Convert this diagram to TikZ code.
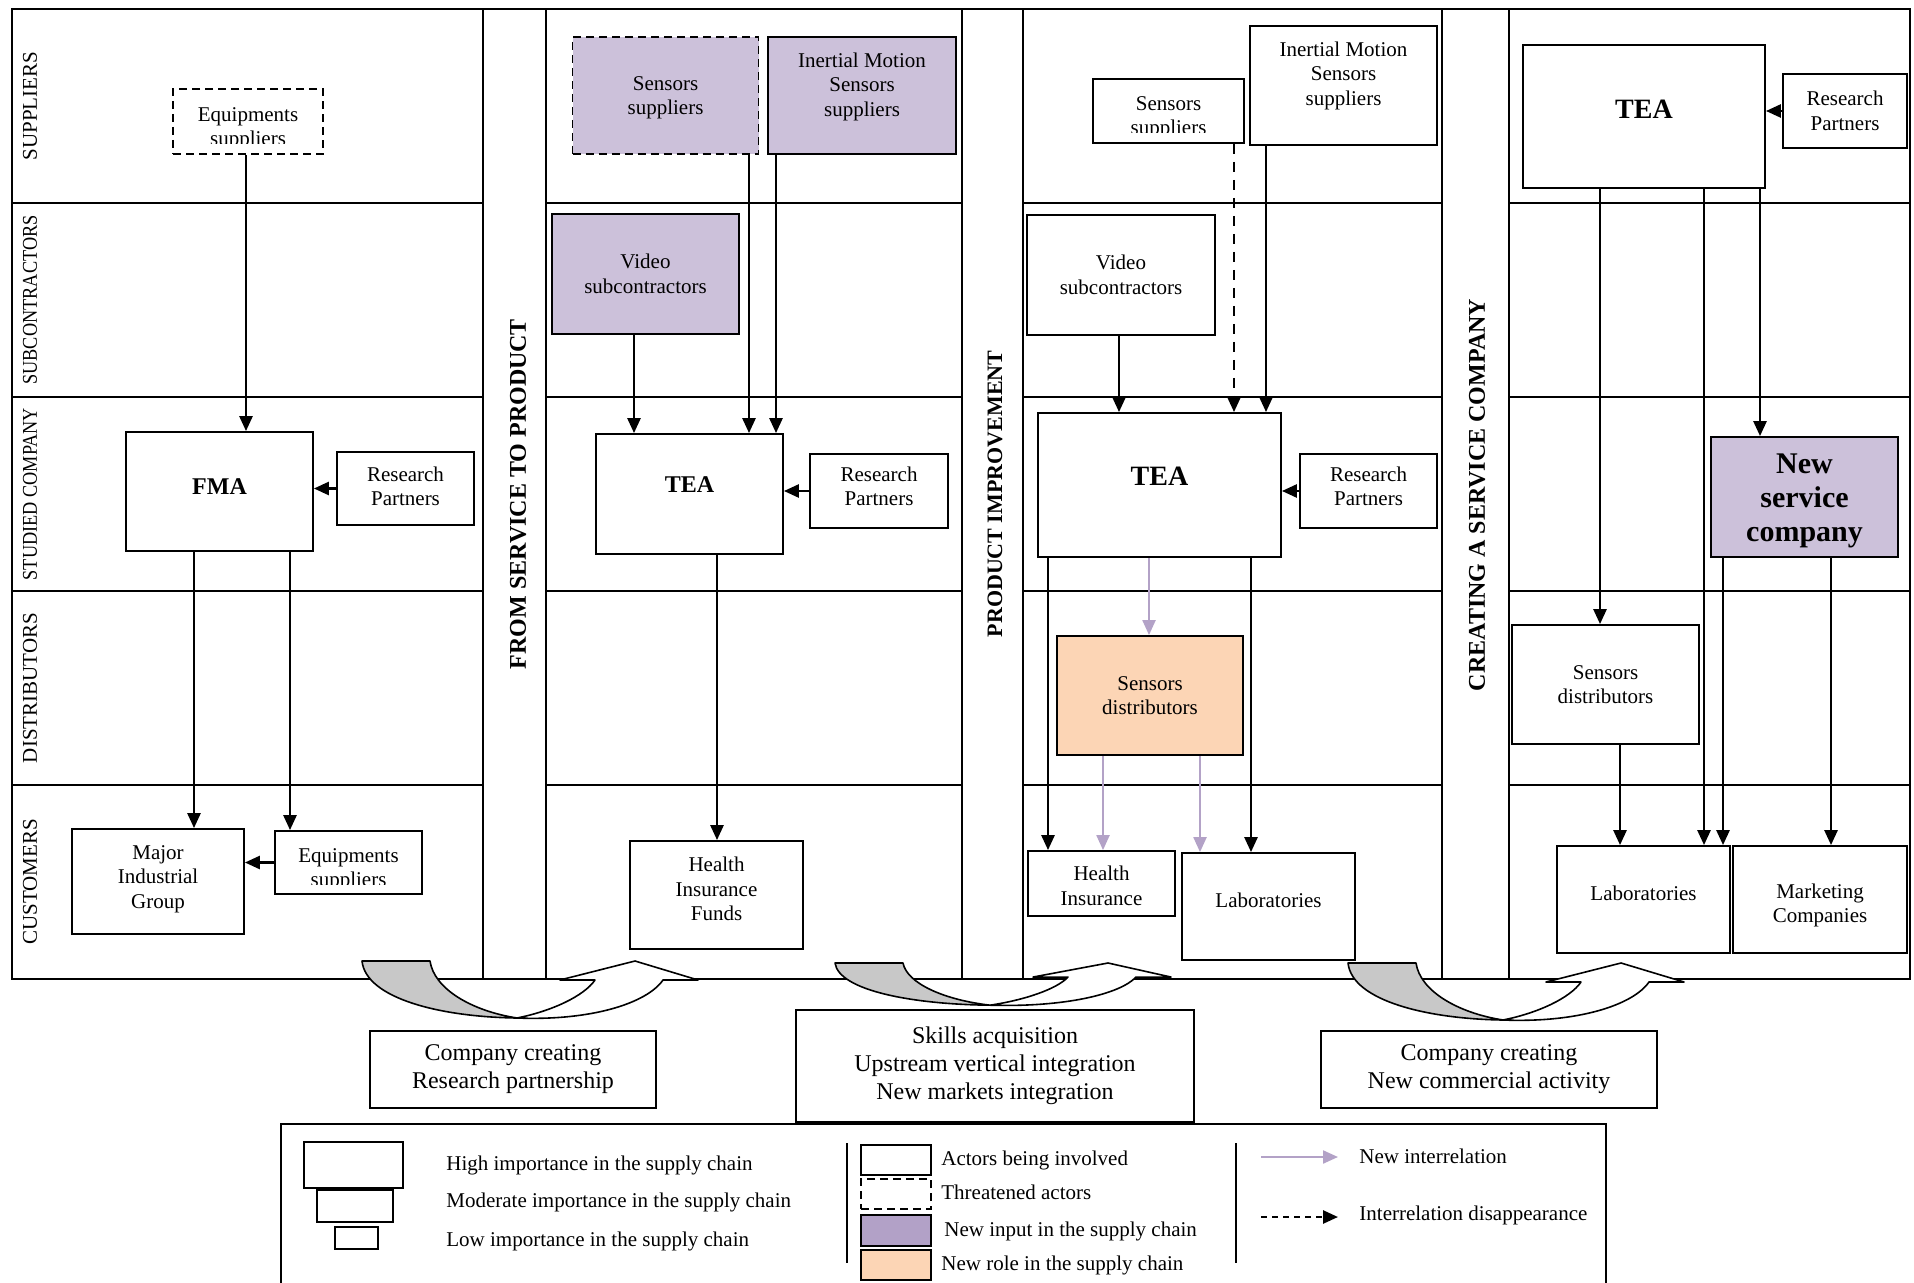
\documentclass[tikz,border=0pt]{standalone}
\usepackage{fontspec}
\setmainfont{Liberation Serif}
\newfontfamily\narrowfont[FakeStretch=0.87]{Liberation Serif}
\usetikzlibrary{arrows.meta,positioning,calc}

\definecolor{inputpurple}{HTML}{CCC1DA}
\definecolor{keypurple}{HTML}{B2A1C7}
\definecolor{rolepeach}{HTML}{FCD5B5}
\definecolor{linkpurple}{HTML}{B3A2C7}
\definecolor{ribbongray}{HTML}{C8C8C8}

\tikzset{
  laneline/.style={line width=0.9pt},
  actor/.style={draw, line width=0.9pt, fill=white, align=center, inner sep=2pt,
    font=\fontsize{10.5}{12.2}\selectfont},
  threatened/.style={actor, dash pattern=on 4pt off 2.5pt},
  boxsize/.style 2 args={minimum width=#1*0.5pt, minimum height=#2*0.5pt},
  firm/.style={font=\bfseries\fontsize{12}{14}\selectfont},
  bigfirm/.style={font=\bfseries\fontsize{14}{16}\selectfont},
  shiftedtext/.style 2 args={path picture={
    \node[align=center, font=\fontsize{10.5}{12.2}\selectfont] at ([yshift=#1]path picture bounding box.center) {#2};}},
  clippedtext/.style n args={3}{path picture={
    \clip ([yshift=5pt]path picture bounding box.south west) rectangle (path picture bounding box.north east);
    \node[align=center, font=#1] at ([yshift=#2]path picture bounding box.center) {#3};}},
  rowlabel/.style={rotate=90, inner sep=0pt, font=\fontsize{10.5}{12}\selectfont},
  phase/.style={rotate=90, inner sep=0pt, font=\bfseries\fontsize{12}{14}\selectfont},
  arr/.style={-{Triangle[length=7.5pt,width=6.5pt]}, line width=1.3pt},
  newlink/.style={arr, draw=linkpurple, line width=1.1pt},
  lostlink/.style={arr, dash pattern=on 5pt off 4pt},
  ribbon/.style={draw, line width=0.8pt, line join=round},
  outcome/.style={draw, line width=1pt, align=center, font=\fontsize{12}{14}\selectfont},
  keytext/.style={anchor=west, inner sep=0pt, font=\fontsize{10.5}{12}\selectfont}
}

\begin{document}
\begin{tikzpicture}[x=0.5pt, y=-0.5pt]
\useasboundingbox (0,0) rectangle (1914,1283);
% lanes and phase bands
\draw[laneline] (12,9) rectangle (1910,979);
\foreach \xa/\xb in {483/546, 962/1023, 1442/1509}
  \draw[laneline] (\xa,9) -- (\xa,979) (\xb,9) -- (\xb,979);
\foreach \xa/\xb in {12/483, 546/962, 1023/1442, 1509/1910}
  \foreach \y in {203,397,591,785}
    \draw[laneline] (\xa,\y) -- (\xb,\y);
\foreach \y/\l in {106/SUPPLIERS, 300/{\narrowfont SUBCONTRACTORS}, 494/{\narrowfont STUDIED COMPANY}, 688/DISTRIBUTORS, 882/CUSTOMERS}
  \node[rowlabel] (lane\y) at (30,\y) {\l};
\node[phase] (phase1) at (518,494) {FROM SERVICE TO PRODUCT};
\node[phase, font=\bfseries\fontsize{11}{13}\selectfont] (phase2) at (995,494) {PRODUCT IMPROVEMENT};
\node[phase] (phase3) at (1477,495) {CREATING A SERVICE COMPANY};

% stage 1
\node[threatened, boxsize={150}{65}, clippedtext={\fontsize{10.5}{12.2}\selectfont}{-3.5pt}{Equipments\\suppliers}] (p1eq) at (248,121.5) {};
\node[actor, firm, text depth=4.8pt, boxsize={187}{119}] (p1fma) at (219.5,491.5) {FMA};
\node[actor, boxsize={137}{73}, shiftedtext={1.2pt}{Research\\Partners}] (p1rp) at (405.5,488.5) {};
\node[actor, boxsize={172}{105}, shiftedtext={1.2pt}{Major\\Industrial\\Group}] (p1mig) at (158,881.5) {};
\node[actor, boxsize={147}{63}, clippedtext={\fontsize{10.5}{12.2}\selectfont}{-3.5pt}{Equipments\\suppliers}] (p1eqc) at (348.5,862.5) {};

% stage 2
\node[threatened, fill=inputpurple, boxsize={186}{117}, shiftedtext={-1.2pt}{Sensors\\suppliers}] (p2ss) at (665.5,95.5) {};
\node[actor, fill=inputpurple, boxsize={188}{117}, shiftedtext={4.3pt}{Inertial Motion\\Sensors\\suppliers}] (p2ims) at (862,95.5) {};
\node[actor, fill=inputpurple, boxsize={187}{120}] (p2vid) at (645.5,274) {Video\\subcontractors};
\node[actor, firm, text depth=9.8pt, boxsize={187}{120}] (p2tea) at (689.5,494) {TEA};
\node[actor, boxsize={138}{74}, shiftedtext={2.4pt}{Research\\Partners}] (p2rp) at (879,491) {};
\node[actor, boxsize={173}{108}, shiftedtext={3pt}{Health\\Insurance\\Funds}] (p2hif) at (716.5,895) {};

% stage 3
\node[actor, boxsize={151}{64}, clippedtext={\fontsize{10.5}{12.2}\selectfont}{-3.5pt}{Sensors\\suppliers}] (p3ss) at (1168.5,111) {};
\node[actor, boxsize={187}{119}, shiftedtext={4.9pt}{Inertial Motion\\Sensors\\suppliers}] (p3ims) at (1343.5,85.5) {};
\node[actor, boxsize={188}{120}] (p3vid) at (1121,275) {Video\\subcontractors};
\node[actor, bigfirm, text depth=8.6pt, boxsize={243}{144}] (p3tea) at (1159.5,485) {TEA};
\node[actor, boxsize={137}{74}, shiftedtext={2.4pt}{Research\\Partners}] (p3rp) at (1368.5,491) {};
\node[actor, fill=rolepeach, boxsize={186}{119}] (p3sd) at (1150,695.5) {Sensors\\distributors};
\node[actor, boxsize={147}{65}, shiftedtext={-1.2pt}{Health\\Insurance}] (p3hi) at (1101.5,883.5) {};
\node[actor, text depth=6pt, boxsize={173}{107}] (p3lab) at (1268.5,906.5) {Laboratories};

% stage 4
\node[actor, bigfirm, text depth=7.4pt, boxsize={242}{143}] (p4tea) at (1644,116.5) {TEA};
\node[actor, boxsize={124}{74}] (p4rp) at (1845,111) {Research\\Partners};
\node[actor, fill=inputpurple, boxsize={187}{120}, clippedtext={\bfseries\fontsize{15}{17}\selectfont}{-2pt}{New\\service\\company}] (p4nsc) at (1804.5,497) {};
\node[actor, boxsize={187}{119}] (p4sd) at (1605.5,684.5) {Sensors\\distributors};
\node[actor, text depth=6pt, boxsize={173}{107}] (p4lab) at (1643.5,899.5) {Laboratories};
\node[actor, boxsize={174}{107}, shiftedtext={-3pt}{Marketing\\Companies}] (p4mkt) at (1820,899.5) {};

% interrelations
\foreach \x/\a/\b in {246/p1eq/p1fma, 194/p1fma/p1mig, 290/p1fma/p1eqc,
    634/p2vid/p2tea, 749/p2ss/p2tea, 776/p2ims/p2tea, 717/p2tea/p2hif,
    1119/p3vid/p3tea, 1266/p3ims/p3tea, 1048/p3tea/p3hi, 1251/p3tea/p3lab,
    1600/p4tea/p4sd, 1704/p4tea/p4lab, 1760/p4tea/p4nsc, 1723/p4nsc/p4lab, 1831/p4nsc/p4mkt, 1620/p4sd/p4lab}
  \draw[arr] (\x,0 |- \a.south) -- (\x,0 |- \b.north);
\foreach \x/\a/\b in {1149/p3tea/p3sd, 1103/p3sd/p3hi, 1200/p3sd/p3lab}
  \draw[newlink] (\x,0 |- \a.south) -- (\x,0 |- \b.north);
\draw[lostlink] (1234,0 |- p3ss.south) -- (1234,0 |- p3tea.north);
\foreach \a/\b in {p1rp/p1fma, p2rp/p2tea, p3rp/p3tea, p4rp/p4tea, p1eqc/p1mig}
  \draw[arr] (\a.west) -- (\a.west -| \b.east);

% transition ribbons
\foreach \rx/\ry/\rs in {362/961/1, 835/963/0.74, 1348/963/1} {
  \begin{scope}[shift={(\rx,\ry)}, yscale=\rs]
    \filldraw[ribbon, fill=ribbongray] (0,0) -- (68,0) .. controls (72,28) and (110,50) .. (155,57)
      .. controls (80,56) and (4,38) .. (0,0) -- cycle;
    \filldraw[ribbon, fill=white] (155,57) .. controls (190,50) and (222,35) .. (233,19) -- (198,19)
      -- (273,0) -- (336,19) -- (301,19) .. controls (285,42) and (230,60) .. (155,57) -- cycle;
  \end{scope}
}
\node[outcome, boxsize={286}{77}] (out1) at (513,1069.5) {Company creating\\Research partnership};
\node[outcome, boxsize={398}{112}] (out2) at (995,1066) {Skills acquisition\\Upstream vertical integration\\New markets integration};
\node[outcome, boxsize={336}{77}] (out3) at (1489,1069.5) {Company creating\\New commercial activity};

% legend
\draw[line width=1pt] (281,1300) -- (281,1124) -- (1606,1124) -- (1606,1300);
\draw[line width=0.9pt] (847,1143) -- (847,1263) (1236,1143) -- (1236,1263);
\node[actor, boxsize={99}{46}] (keyhigh) at (353.5,1165) {};
\node[actor, boxsize={76}{32}] (keymid) at (355,1206) {};
\node[actor, boxsize={43}{22}] (keylow) at (356.5,1238) {};
\node[keytext] (keyhightxt) at (446,1165) {High importance in the supply chain};
\node[keytext] (keymidtxt) at (446,1202) {Moderate importance in the supply chain};
\node[keytext] (keylowtxt) at (446,1241) {Low importance in the supply chain};
\node[actor, boxsize={70}{30}] (keyactor) at (896,1160) {};
\node[threatened, boxsize={70}{30}] (keythreat) at (896,1194) {};
\node[actor, fill=keypurple, boxsize={70}{31}] (keyinput) at (896,1230.5) {};
\node[actor, fill=rolepeach, boxsize={70}{30}] (keyrole) at (896,1265) {};
\node[keytext] (keyactortxt) at (941,1160) {Actors being involved};
\node[keytext] (keythreattxt) at (941,1192) {Threatened actors};
\node[keytext] (keyinputtxt) at (944,1231) {New input in the supply chain};
\node[keytext] (keyroletxt) at (941,1265) {New role in the supply chain};
\coordinate (keynewA) at (1261,1157);
\coordinate (keynewB) at (1338,1157);
\coordinate (keylostA) at (1261,1217);
\coordinate (keylostB) at (1338,1217);
\draw[newlink] (keynewA) -- (keynewB);
\draw[lostlink, dash pattern=on 3pt off 2.5pt] (keylostA) -- (keylostB);
\node[keytext] (keynewtxt) at (1359,1156) {New interrelation};
\node[keytext] (keylosttxt) at (1359,1215) {Interrelation disappearance};
\end{tikzpicture}
\end{document}
